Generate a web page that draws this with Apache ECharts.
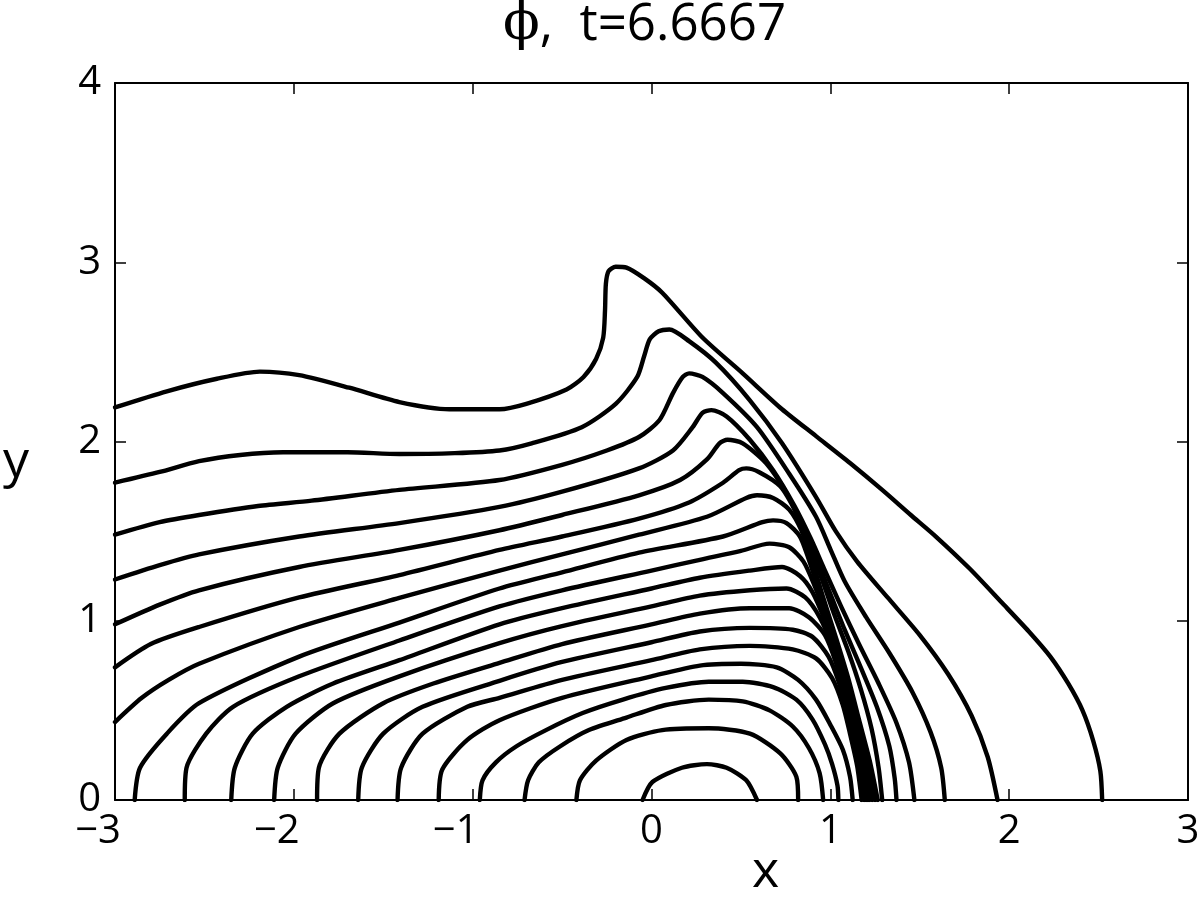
<!DOCTYPE html>
<html><head><meta charset="utf-8">
<script src="https://cdn.jsdelivr.net/npm/echarts@6/dist/echarts.min.js"></script>
<style>html,body{margin:0;padding:0;background:#fff}#c{width:1204px;height:899px}</style>
</head><body><div id="c"></div>
<script>
// ---- text / ticks ----
const titlePhi = '\u03D5';
const titleRest = ',  t=6.6667';
const xName = 'x';
const yName = 'y';
const xTicks = [-3, -2, -1, 0, 1, 2, 3];
const yTicks = [0, 1, 2, 3, 4];

// ---- contour lines (x, y) ----
const L1 = [[-3,2.19],[-2.71,2.28],[-2.43,2.35],[-2.19,2.39],[-1.97,2.37],[-1.69,2.30],[-1.41,2.22],[-1.13,2.18],[-0.85,2.18],[-0.70,2.21],[-0.475,2.29],[-0.38,2.36],[-0.31,2.46],[-0.27,2.58],[-0.26,2.73],[-0.255,2.88],[-0.24,2.95],[-0.20,2.975],[-0.14,2.97],[-0.04,2.91],[0.06,2.83],[0.285,2.58],[0.51,2.38],[0.73,2.18],[0.92,2.03],[1.11,1.88],[1.29,1.73],[1.45,1.59],[1.59,1.47],[1.78,1.29],[1.96,1.10],[2.11,0.94],[2.23,0.80],[2.33,0.65],[2.41,0.50],[2.47,0.33],[2.51,0.16],[2.52,0]];
const L2 = [[-3,1.77],[-2.75,1.83],[-2.53,1.89],[-2.3,1.925],[-2.06,1.94],[-1.7,1.94],[-1.41,1.93],[-1.1,1.935],[-0.85,1.95],[-0.67,1.99],[-0.39,2.08],[-0.20,2.21],[-0.08,2.36],[-0.04,2.48],[-0.01,2.57],[0.04,2.615],[0.10,2.625],[0.21,2.56],[0.36,2.44],[0.55,2.23],[0.73,1.99],[0.92,1.69],[1.03,1.50],[1.15,1.33],[1.32,1.13],[1.50,0.92],[1.66,0.70],[1.79,0.47],[1.88,0.24],[1.935,0]];
const L3 = [[-3,1.48],[-2.75,1.55],[-2.53,1.59],[-2.2,1.64],[-1.9,1.67],[-1.41,1.73],[-0.85,1.785],[-0.5,1.87],[-0.25,1.95],[-0.07,2.025],[0.045,2.12],[0.12,2.27],[0.175,2.36],[0.21,2.38],[0.285,2.36],[0.40,2.27],[0.59,2.08],[0.77,1.82],[0.92,1.58],[1.0,1.40],[1.08,1.22],[1.2,1.02],[1.33,0.82],[1.46,0.60],[1.56,0.38],[1.62,0.18],[1.64,0]];
const L4 = [[-3,1.23],[-2.75,1.31],[-2.53,1.37],[-1.97,1.47],[-1.41,1.545],[-0.85,1.635],[-0.5,1.72],[-0.07,1.85],[0.12,1.95],[0.23,2.08],[0.285,2.16],[0.335,2.175],[0.42,2.14],[0.55,2.01],[0.68,1.84],[0.80,1.64],[0.89,1.46],[0.97,1.28],[1.06,1.08],[1.16,0.87],[1.27,0.65],[1.37,0.43],[1.44,0.21],[1.47,0]];
const L5 = [[-3,0.98],[-2.75,1.09],[-2.53,1.17],[-1.97,1.30],[-1.41,1.395],[-0.85,1.505],[-0.5,1.59],[-0.07,1.70],[0.16,1.785],[0.31,1.90],[0.38,1.99],[0.425,2.01],[0.51,1.99],[0.64,1.88],[0.75,1.72],[0.84,1.54],[0.92,1.35],[1.0,1.15],[1.08,0.95],[1.17,0.74],[1.26,0.52],[1.33,0.30],[1.36,0.12],[1.37,0]];
const L6 = [[-3,0.74],[-2.8,0.87],[-2.53,0.965],[-1.97,1.13],[-1.41,1.255],[-0.85,1.395],[-0.5,1.47],[-0.07,1.57],[0.21,1.66],[0.40,1.77],[0.49,1.84],[0.53,1.85],[0.60,1.83],[0.72,1.75],[0.81,1.60],[0.88,1.43],[0.95,1.24],[1.02,1.04],[1.10,0.83],[1.17,0.62],[1.23,0.40],[1.27,0.18],[1.29,0]];
const L7 = [[-3,0.435],[-2.85,0.57],[-2.7,0.67],[-2.53,0.76],[-1.97,0.965],[-1.41,1.127],[-0.85,1.28],[-0.5,1.37],[-0.07,1.48],[0.31,1.58],[0.53,1.685],[0.59,1.70],[0.68,1.685],[0.77,1.62],[0.84,1.50],[0.90,1.33],[0.96,1.13],[1.03,0.91],[1.10,0.68],[1.16,0.45],[1.22,0.22],[1.265,0]];
const B1 = [[-2.89,0],[-2.86,0.18],[-2.71,0.37],[-2.53,0.54],[-1.97,0.80],[-1.41,0.99],[-0.85,1.18],[-0.5,1.27],[-0.07,1.38],[0.40,1.47],[0.62,1.55],[0.68,1.56],[0.755,1.545],[0.83,1.47],[0.88,1.34],[0.94,1.16],[1.01,0.95],[1.08,0.73],[1.14,0.50],[1.20,0.26],[1.25,0]];
const B2 = [[-2.61,0],[-2.60,0.18],[-2.49,0.37],[-2.34,0.52],[-1.97,0.69],[-1.41,0.89],[-0.85,1.08],[-0.5,1.17],[0,1.28],[0.27,1.34],[0.50,1.39],[0.66,1.43],[0.77,1.41],[0.85,1.33],[0.91,1.20],[0.97,1.04],[1.04,0.83],[1.11,0.59],[1.17,0.34],[1.235,0]];
const B3 = [[-2.35,0],[-2.33,0.18],[-2.23,0.37],[-2.04,0.52],[-1.78,0.65],[-1.41,0.78],[-0.85,0.98],[-0.5,1.07],[0,1.18],[0.27,1.24],[0.55,1.28],[0.73,1.30],[0.83,1.25],[0.90,1.16],[0.97,1.00],[1.04,0.80],[1.10,0.57],[1.16,0.32],[1.22,0]];
const B4 = [[-2.11,0],[-2.09,0.18],[-1.99,0.37],[-1.78,0.54],[-1.41,0.69],[-0.85,0.875],[-0.5,0.97],[0,1.08],[0.27,1.14],[0.55,1.17],[0.755,1.18],[0.86,1.13],[0.94,1.02],[1.01,0.86],[1.07,0.67],[1.12,0.45],[1.17,0.22],[1.21,0]];
const B5 = [[-1.87,0],[-1.86,0.18],[-1.745,0.37],[-1.50,0.54],[-1.22,0.65],[-0.85,0.765],[-0.5,0.87],[0,0.98],[0.27,1.04],[0.55,1.07],[0.77,1.07],[0.88,1.02],[0.97,0.92],[1.03,0.77],[1.08,0.59],[1.13,0.39],[1.17,0.19],[1.20,0]];
const B6 = [[-1.64,0],[-1.62,0.18],[-1.50,0.37],[-1.28,0.52],[-0.85,0.665],[-0.5,0.77],[0,0.88],[0.27,0.94],[0.55,0.96],[0.79,0.95],[0.90,0.91],[0.99,0.80],[1.05,0.65],[1.10,0.47],[1.14,0.27],[1.19,0]];
const B7 = [[-1.42,0],[-1.40,0.18],[-1.28,0.37],[-1.03,0.52],[-0.85,0.57],[-0.5,0.67],[0,0.78],[0.27,0.84],[0.55,0.86],[0.79,0.84],[0.92,0.79],[1.01,0.68],[1.07,0.53],[1.11,0.37],[1.15,0.19],[1.175,0]];
const B8 = [[-1.19,0],[-1.17,0.17],[-1.03,0.335],[-0.85,0.445],[-0.5,0.57],[0,0.69],[0.27,0.75],[0.50,0.76],[0.70,0.74],[0.82,0.67],[0.92,0.56],[1.0,0.42],[1.07,0.28],[1.11,0.13],[1.125,0]];
const B9 = [[-0.96,0],[-0.945,0.11],[-0.87,0.21],[-0.755,0.30],[-0.59,0.39],[-0.385,0.485],[-0.16,0.56],[0.08,0.625],[0.32,0.66],[0.51,0.66],[0.68,0.63],[0.81,0.56],[0.90,0.45],[0.97,0.31],[1.01,0.20],[1.04,0.08],[1.045,0]];
const B10 = [[-0.71,0],[-0.69,0.11],[-0.63,0.21],[-0.51,0.30],[-0.35,0.39],[-0.14,0.46],[0.08,0.53],[0.32,0.56],[0.51,0.55],[0.66,0.50],[0.79,0.41],[0.88,0.29],[0.94,0.15],[0.96,0]];
const B11 = [[-0.42,0],[-0.40,0.11],[-0.31,0.22],[-0.14,0.335],[0.06,0.39],[0.32,0.40],[0.55,0.37],[0.72,0.26],[0.81,0.13],[0.82,0]];
const D1 = [[-0.05,0],[0.005,0.10],[0.17,0.18],[0.31,0.20],[0.42,0.18],[0.53,0.11],[0.59,0]];

const contours = [L1, L2, L3, L4, L5, L6, L7, B1, B2, B3, B4, B5, B6, B7, B8, B9, B10, B11, D1];

const FONT = 'Open Sans';
const TICK_FS = 40;
const chart = echarts.init(document.getElementById('c'), null, {renderer: 'canvas'});

const axisLineStyle = {color: '#000', width: 2};
const tickStyle = {show: true, inside: true, length: 11, lineStyle: {color: '#000', width: 1.5}};

function fmtX(v) {
  if (v < 0) return '{n|\u2212' + Math.abs(v) + '}';
  return '{p|' + v + '}';
}

const option = {
  animation: false,
  backgroundColor: '#fff',
  grid: {left: 115, right: 16, top: 83, bottom: 99, containLabel: false},
  xAxis: [
    {type: 'value', min: xTicks[0], max: xTicks[xTicks.length - 1], interval: 1, position: 'bottom',
     axisLine: {show: true, onZero: false, lineStyle: axisLineStyle}, axisTick: tickStyle, splitLine: {show: false},
     axisLabel: {show: true, margin: 12, formatter: fmtX, color: '#000',
       rich: {n: {fontFamily: FONT, fontSize: TICK_FS, color: '#000', padding: [0, 34, 0, 0]},
              p: {fontFamily: FONT, fontSize: TICK_FS, color: '#000'}}}},
    {type: 'value', min: xTicks[0], max: xTicks[xTicks.length - 1], interval: 1, position: 'top',
     axisLine: {show: true, onZero: false, lineStyle: axisLineStyle}, axisTick: tickStyle, splitLine: {show: false},
     axisLabel: {show: false}}
  ],
  yAxis: [
    {type: 'value', min: yTicks[0], max: yTicks[yTicks.length - 1], interval: 1, position: 'left',
     axisLine: {show: true, onZero: false, lineStyle: axisLineStyle}, axisTick: tickStyle, splitLine: {show: false},
     axisLabel: {show: true, margin: 14, color: '#000', fontFamily: FONT, fontSize: TICK_FS}},
    {type: 'value', min: yTicks[0], max: yTicks[yTicks.length - 1], interval: 1, position: 'right',
     axisLine: {show: true, onZero: false, lineStyle: axisLineStyle}, axisTick: tickStyle, splitLine: {show: false},
     axisLabel: {show: false}}
  ],
  graphic: [
    {type: 'text', left: 503, top: -2, style: {
      text: '{phi|' + titlePhi + '}{rest|' + titleRest + '}',
      rich: {phi: {fontFamily: 'DejaVu Serif', fontSize: 54, fill: '#000'},
             rest: {fontFamily: FONT, fontSize: 51, fill: '#000'}}}},
    {type: 'text', left: 752, top: 846, style: {text: xName, fontFamily: FONT, fontSize: 52, fill: '#000'}},
    {type: 'text', left: 3, top: 436, style: {text: yName, fontFamily: FONT, fontSize: 52, fill: '#000'}}
  ],
  series: contours.map(d => ({
    type: 'line', data: d, xAxisIndex: 0, yAxisIndex: 0,
    showSymbol: false, symbol: 'none', smooth: 0.25, silent: true, clip: true,
    lineStyle: {color: '#000', width: 4.4, cap: 'round', join: 'round'}
  }))
};
chart.setOption(option);
</script>
</body></html>
